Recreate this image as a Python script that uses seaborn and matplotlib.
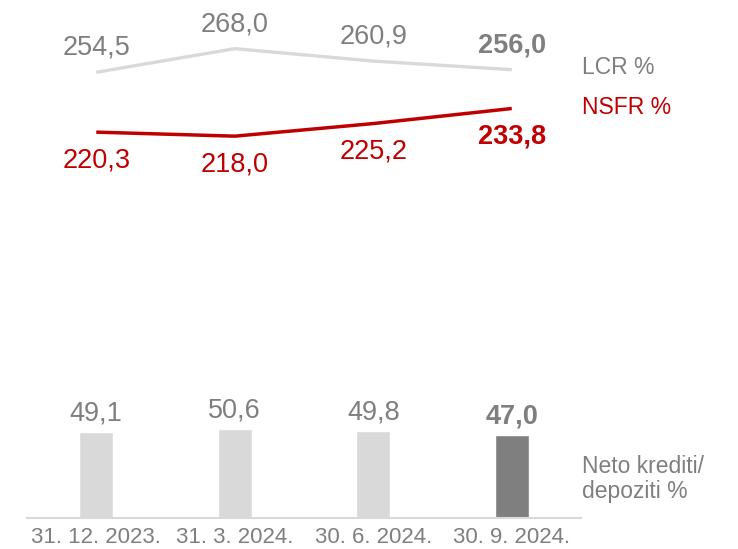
import numpy as np
import pandas as pd
import seaborn as sns
import matplotlib.pyplot as plt

# Values
dates = ["31. 12. 2023.", "31. 3. 2024.", "30. 6. 2024.", "30. 9. 2024."]
lcr = [254.5, 268.0, 260.9, 256.0]
nsfr = [220.3, 218.0, 225.2, 233.8]
loans_deposits = [49.1, 50.6, 49.8, 47.0]

GREY_TXT = "#7f7f7f"
GREY_LIGHT = "#d9d9d9"
RED = "#c00000"

sns.set_theme(style="white")
plt.rcParams["font.family"] = ["Liberation Sans", "DejaVu Sans"]

df = pd.DataFrame({"date": dates, "lcr": lcr, "nsfr": nsfr, "ratio": loans_deposits})
xpos = np.arange(len(dates))

fig = plt.figure(figsize=(7.38, 5.49), dpi=100)
ax = fig.add_axes([0.0366, 0.057, 0.7507, 0.943])

bar_colors = [GREY_LIGHT, GREY_LIGHT, GREY_LIGHT, GREY_TXT]
sns.barplot(data=df, x="date", y="ratio", hue="date", palette=bar_colors,
            order=dates, hue_order=dates, width=0.245, saturation=1,
            legend=False, ax=ax)

sns.lineplot(x=xpos, y=df["lcr"], color=GREY_LIGHT, lw=2.4, ax=ax,
             solid_capstyle="butt")
sns.lineplot(x=xpos, y=df["nsfr"], color=RED, lw=2.5, ax=ax,
             solid_capstyle="butt")

def fmt(v):
    return f"{v:.1f}".replace(".", ",")

last = len(dates) - 1
for i in xpos:
    bold = "bold" if i == last else "normal"
    ax.annotate(fmt(lcr[i]), (i, lcr[i]), xytext=(0, 12.6), textcoords="offset points",
                ha="center", va="baseline", fontsize=19.5, color=GREY_TXT, fontweight=bold)
    ax.annotate(fmt(nsfr[i]), (i, nsfr[i]), xytext=(0, -25.5), textcoords="offset points",
                ha="center", va="baseline", fontsize=19.5, color=RED, fontweight=bold)
    ax.annotate(fmt(loans_deposits[i]), (i, loans_deposits[i]), xytext=(0, 8.3),
                textcoords="offset points", ha="center", va="baseline",
                fontsize=19.5, color=GREY_TXT, fontweight=bold)

ax.set_xlim(-0.5, 3.5)
ax.set_ylim(0, 295.8)
ax.set_xlabel("")
ax.set_ylabel("")
ax.set_yticks([])
ax.set_xticks(xpos)
ax.set_xticklabels(dates, fontsize=16, color=GREY_TXT)
ax.tick_params(axis="x", length=0, pad=7)
for side in ["top", "left", "right"]:
    ax.spines[side].set_visible(False)
ax.spines["bottom"].set_color(GREY_LIGHT)
ax.spines["bottom"].set_linewidth(1.5)

fig.text(582 / 738, 1 - 68 / 549, "LCR %", fontsize=16.5, color=GREY_TXT,
         ha="left", va="center")
fig.text(582 / 738, 1 - 107.5 / 549, "NSFR %", fontsize=16.5, color=RED,
         ha="left", va="center")
fig.text(582 / 738, 1 - 479 / 549, "Neto krediti/\ndepoziti %", fontsize=16.5,
         color=GREY_TXT, ha="left", va="center", linespacing=1.1)

fig.savefig("out.png", dpi=100, facecolor="white")
